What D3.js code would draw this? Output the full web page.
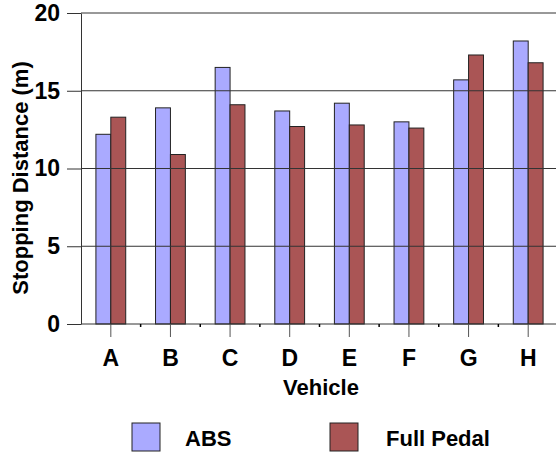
<!DOCTYPE html>
<html>
<head>
<meta charset="utf-8">
<script src="https://cdn.jsdelivr.net/npm/d3@7"></script>
<style>
  body { margin: 0; background: #fff; }
  text { font-family: "Liberation Sans", Arial, sans-serif; }
</style>
</head>
<body>
<svg width="556" height="454"></svg>
<script>
var vehicles = ["A", "B", "C", "D", "E", "F", "G", "H"];
var seriesNames = ["ABS", "Full Pedal"];
var absValues = [12.2, 13.9, 16.5, 13.7, 14.2, 13.0, 15.7, 18.2];
var fullPedalValues = [13.3, 10.9, 14.1, 12.7, 12.8, 12.6, 17.3, 16.8];
var yTicks = [0, 5, 10, 15, 20];

var colours = ["#aaaaff", "#aa5555"];

var svg = d3.select("svg"),
    width = +svg.attr("width"),
    height = +svg.attr("height");

var plotLeft = 81, plotRight = 558, plotTop = 13, plotBottom = 324;

var x = d3.scaleBand()
    .domain(vehicles)
    .range([plotLeft, plotRight])
    .paddingInner(0.5)
    .paddingOuter(0.25);

var x1 = d3.scaleBand()
    .domain(seriesNames)
    .range([0, x.bandwidth()]);

var y = d3.scaleLinear()
    .domain([0, 20])
    .range([plotBottom, plotTop]);

var rows = vehicles.map(function(v, i) {
  return { vehicle: v, values: [absValues[i], fullPedalValues[i]] };
});

// bars
svg.append("g")
  .selectAll("g")
  .data(rows)
  .enter().append("g")
    .attr("transform", function(d) { return "translate(" + x(d.vehicle) + ",0)"; })
  .selectAll("rect")
  .data(function(d) { return d.values.map(function(v, j) { return { name: seriesNames[j], value: v, j: j }; }); })
  .enter().append("rect")
    .attr("x", function(d) { return x1(d.name); })
    .attr("y", function(d) { return y(d.value); })
    .attr("width", x1.bandwidth())
    .attr("height", function(d) { return y(0) - y(d.value); })
    .attr("fill", function(d) { return colours[d.j]; })
    .attr("stroke", "#222")
    .attr("stroke-width", 1);

// gridlines on top of bars
svg.append("g")
  .selectAll("line")
  .data(yTicks)
  .enter().append("line")
    .attr("x1", plotLeft)
    .attr("x2", width)
    .attr("y1", function(d) { return y(d); })
    .attr("y2", function(d) { return y(d); })
    .attr("stroke", "#333")
    .attr("stroke-width", 1);

// y axis
var yAxis = svg.append("g")
    .attr("transform", "translate(" + plotLeft + ",0)")
    .call(d3.axisLeft(y).tickValues(yTicks).tickSize(14).tickSizeOuter(0).tickPadding(7));
yAxis.selectAll("line").attr("stroke", "#333");
yAxis.select(".domain").attr("stroke", "#333");
yAxis.selectAll("text")
    .attr("fill", "#000")
    .style("font-size", "23px")
    .style("font-weight", "bold");

// x axis
var xAxis = svg.append("g")
    .attr("transform", "translate(0," + plotBottom + ")")
    .call(d3.axisBottom(x).tickSize(13).tickSizeOuter(0).tickPadding(13));
xAxis.select(".domain").remove();
xAxis.selectAll("line").attr("stroke", "#555");
xAxis.selectAll("text")
    .attr("fill", "#000")
    .style("font-size", "23px")
    .style("font-weight", "bold");

// small marks between categories
svg.append("g")
  .selectAll("line")
  .data(vehicles.slice(1))
  .enter().append("line")
    .attr("x1", function(d) { return x(d) - x.step() * x.paddingInner() / 2; })
    .attr("x2", function(d) { return x(d) - x.step() * x.paddingInner() / 2; })
    .attr("y1", plotBottom)
    .attr("y2", plotBottom + 3)
    .attr("stroke", "#000")
    .attr("stroke-width", 1.5);

// axis titles
svg.append("text")
    .attr("x", 321)
    .attr("y", 395)
    .attr("text-anchor", "middle")
    .style("font-size", "22px")
    .style("font-weight", "bold")
    .text("Vehicle");

svg.append("text")
    .attr("transform", "translate(28,178) rotate(-90)")
    .attr("text-anchor", "middle")
    .style("font-size", "22px")
    .style("font-weight", "bold")
    .text("Stopping Distance (m)");

// legend
var legendX = [132, 330];
var legend = svg.append("g")
  .selectAll("g")
  .data(seriesNames)
  .enter().append("g")
    .attr("transform", function(d, i) { return "translate(" + legendX[i] + ",423)"; });

legend.append("rect")
    .attr("width", 28)
    .attr("height", 28)
    .attr("fill", function(d, i) { return colours[i]; })
    .attr("stroke", "#222");

legend.append("text")
    .attr("x", function(d, i) { return i === 0 ? 53 : 56; })
    .attr("y", 23)
    .style("font-size", "22px")
    .style("font-weight", "bold")
    .text(function(d) { return d; });
</script>
</body>
</html>
